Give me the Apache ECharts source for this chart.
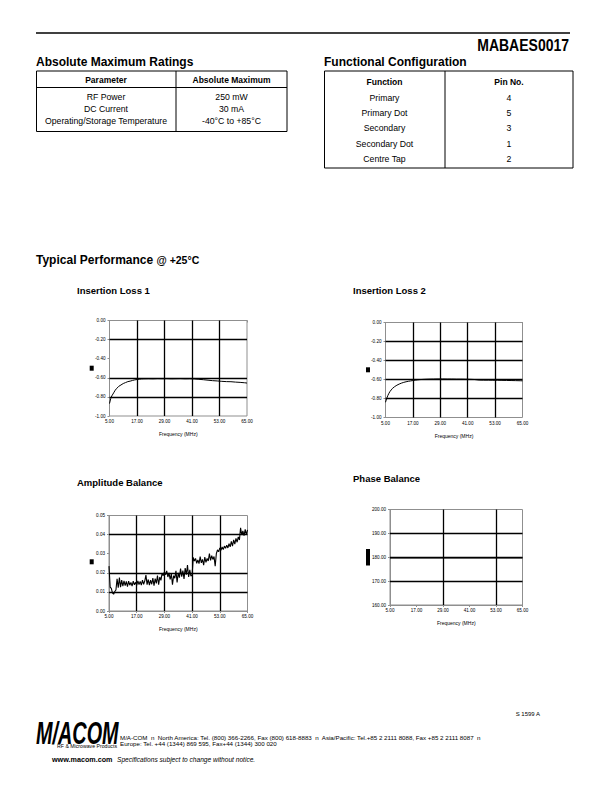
<!DOCTYPE html>
<html><head><meta charset="utf-8">
<script src="https://cdn.jsdelivr.net/npm/echarts@6/dist/echarts.min.js"></script>
<style>html,body{margin:0;padding:0;background:#fff}#c{width:612px;height:792px}</style>
</head><body><div id="c"></div>
<script>
const FONT = '"Liberation Sans", Arial, Helvetica, sans-serif';

// ---------- DATA ----------
const il1Freq = [5,5.5,6,6.5,7,7.5,8,9,10,11,12,13,14,15,16,17,18,19,20,22,24,26,28,30,32,34,36,38,40,42,44,46,48,50,52,54,56,58,60,62,64,65];
const il1Val  = [-0.87,-0.82,-0.79,-0.77,-0.75,-0.73,-0.715,-0.69,-0.675,-0.66,-0.65,-0.64,-0.635,-0.628,-0.622,-0.618,-0.615,-0.612,-0.611,-0.61,-0.611,-0.609,-0.61,-0.609,-0.611,-0.61,-0.609,-0.611,-0.61,-0.612,-0.616,-0.62,-0.625,-0.63,-0.633,-0.637,-0.64,-0.641,-0.645,-0.648,-0.652,-0.655];

const il2Freq = [5,5.5,6,6.5,7,7.5,8,9,10,11,12,13,14,15,16,17,18,19,20,22,24,26,28,30,32,34,36,38,40,42,44,46,48,50,52,54,56,58,60,62,64,65];
const il2Val  = [-0.84,-0.80,-0.77,-0.745,-0.725,-0.71,-0.695,-0.675,-0.66,-0.648,-0.638,-0.63,-0.624,-0.619,-0.615,-0.611,-0.607,-0.604,-0.601,-0.598,-0.596,-0.595,-0.594,-0.594,-0.595,-0.595,-0.596,-0.596,-0.597,-0.598,-0.6,-0.606,-0.607,-0.607,-0.608,-0.608,-0.609,-0.61,-0.611,-0.612,-0.613,-0.614];

const ampFreq = [5,5.5,6,6.5,7,7.5,8,8.5,9,9.5,10,10.5,11,11.5,12,12.5,13,13.5,14,14.5,15,15.5,16,16.5,17,17.5,18,18.5,19,19.5,20,20.5,21,21.5,22,22.5,23,23.5,24,24.5,25,25.5,26,26.5,27,27.5,28,28.5,29,29.5,30,30.5,31,31.5,32,32.5,33,33.5,34,34.5,35,35.5,36,36.5,37,37.5,38,38.5,39,39.5,40,40.5,41,41.5,42,42.5,43,43.5,44,44.5,45,45.5,46,46.5,47,47.5,48,48.5,49,49.5,50,50.5,51,51.5,52,52.5,53,53.5,54,54.5,55,55.5,56,56.5,57,57.5,58,58.5,59,59.5,60,60.5,61,61.5,62,62.5,63,63.5,64,64.5,65];
const ampVal  = [0.0235,0.0125,0.0118,0.0095,0.0088,0.0102,0.0110,0.0168,0.0122,0.0175,0.0125,0.0162,0.0130,0.0158,0.0133,0.0155,0.0128,0.0156,0.0135,0.0150,0.0130,0.0156,0.0137,0.0150,0.0134,0.0158,0.0138,0.0155,0.0136,0.0162,0.0140,0.0158,0.0188,0.0138,0.0165,0.0135,0.0162,0.0140,0.0172,0.0132,0.0170,0.0145,0.0185,0.0138,0.0178,0.0160,0.0198,0.0185,0.0205,0.0190,0.0210,0.0178,0.0200,0.0165,0.0195,0.0138,0.0185,0.0172,0.0210,0.0150,0.0200,0.0175,0.0222,0.0180,0.0212,0.0168,0.0225,0.0190,0.0240,0.0178,0.0215,0.0182,0.0190,0.0280,0.0262,0.0275,0.0250,0.0268,0.0248,0.0285,0.0252,0.0270,0.0240,0.0282,0.0255,0.0275,0.0262,0.0300,0.0265,0.0290,0.0270,0.0285,0.0235,0.0300,0.0320,0.0310,0.0330,0.0318,0.0335,0.0322,0.0340,0.0328,0.0345,0.0330,0.0352,0.0336,0.0365,0.0340,0.0372,0.0350,0.0380,0.0360,0.0388,0.0372,0.0435,0.0398,0.0420,0.0395,0.0428,0.0400,0.0425];

const phaseFreq = [5,7,9,11,13,15,17,19,21,23,25,27,29,31,33,35,37,39,41,43,45,47,49,51,53,55,57,59,61,63,65];
const phaseVal  = [179.75,179.7,179.72,179.7,179.74,179.71,179.7,179.73,179.7,179.72,179.74,179.7,179.71,179.73,179.7,179.72,179.71,179.7,179.74,179.72,179.7,179.73,179.71,179.7,179.72,179.7,179.73,179.71,179.7,179.72,179.71];

const freqTickStart = 5, freqTickMax = 65, freqTickStep = 12;
const il1GridY = [-0.2,-0.6,-0.8], il1GridX = [17,29,41,53];
const il2GridY = [-0.2,-0.4,-0.6,-0.8], il2GridX = [17,29,41,53];
const ampGridY = [0.04,0.02,0.01], ampGridX = [17,29,41,53];
const phaseGridY = [190,180,170], phaseGridX = [29,53];

const chartTitles = ['Insertion Loss 1','Insertion Loss 2','Amplitude Balance','Phase Balance'];
const xAxisName = 'Frequency (MHz)';

const ratingsHeader = ['Parameter','Absolute Maximum'];
const ratingsParam = ['RF Power','DC Current','Operating/Storage Temperature'];
const ratingsMax = ['250 mW','30 mA','-40\u00B0C to +85\u00B0C'];
const configHeader = ['Function','Pin No.'];
const configFunction = ['Primary','Primary Dot','Secondary','Secondary Dot','Centre Tap'];
const configPin = ['4','5','3','1','2'];

// ---------- CHART ----------
const chart = echarts.init(document.getElementById('c'), null, {renderer:'svg', width:612, height:792});

const grids = [
  {left:109.5, top:320.5, width:137.5, height:95.5},
  {left:385.5, top:322.5, width:137, height:95},
  {left:109, top:515.5, width:138.5, height:95.5},
  {left:390, top:509.5, width:132.5, height:95.5}
];
const yCfg = [
  {min:-1, max:0, interval:0.2},
  {min:-1, max:0, interval:0.2},
  {min:0, max:0.05, interval:0.01},
  {min:160, max:200, interval:10}
];
const seriesData = [
  il1Freq.map((f,i)=>[f, il1Val[i]]),
  il2Freq.map((f,i)=>[f, il2Val[i]]),
  ampFreq.map((f,i)=>[f, ampVal[i]]),
  phaseFreq.map((f,i)=>[f, phaseVal[i]])
];
const gridLinesY = [il1GridY, il2GridY, ampGridY, phaseGridY];
const gridLinesX = [il1GridX, il2GridX, ampGridX, phaseGridX];

const GRAY = '#8f8f8f';
const option = {
  animation:false,
  grid: grids.map(g=>Object.assign({show:true, borderColor:GRAY, borderWidth:1, backgroundColor:'#fff', containLabel:false}, g)),
  xAxis: grids.map((g,i)=>({
    type:'value', gridIndex:i, min:freqTickStart, max:freqTickMax, interval:freqTickStep,
    axisLine:{show:true, lineStyle:{color:GRAY, width:1}},
    axisTick:{show:true, length:2, lineStyle:{color:GRAY}},
    splitLine:{show:false},
    axisLabel:{fontSize:4.6, color:'#000', fontFamily:FONT, margin:3, formatter:v=>v.toFixed(2)},
    name:xAxisName, nameLocation:'middle', nameGap:15.5,
    nameTextStyle:{fontSize:5, color:'#000', fontFamily:FONT}
  })),
  yAxis: grids.map((g,i)=>({
    type:'value', gridIndex:i, min:yCfg[i].min, max:yCfg[i].max, interval:yCfg[i].interval,
    axisLine:{show:true, lineStyle:{color:GRAY, width:1}},
    axisTick:{show:true, length:2, lineStyle:{color:GRAY}},
    splitLine:{show:false},
    axisLabel:{fontSize:4.6, color:'#000', fontFamily:FONT, margin:4, formatter:v=>v.toFixed(2)}
  })),
  visualMap:[{type:'piecewise', show:false, seriesIndex:3, dimension:0,
    pieces:[{lt:9,color:'#000'},{gte:9,lte:52,color:'#e2e2e2'},{gt:52,color:'#000'}]}],
  series: seriesData.map((d,i)=>({
    type:'line', xAxisIndex:i, yAxisIndex:i, data:d, showSymbol:false, smooth:false,
    lineStyle:{color:'#000', width: i===2 ? 1.1 : (i===3 ? 1.3 : 1)},
    itemStyle:{color:'#000'},
    z:3,
    markLine:{silent:true, symbol:'none', label:{show:false}, animation:false,
      lineStyle:{color:'#000', width:1.3, type:'solid'},
      emphasis:{disabled:true},
      data: gridLinesY[i].map(v=>({yAxis:v})).concat(gridLinesX[i].map(v=>({xAxis:v})))}
  })),
  graphic: []
};

const G = option.graphic;
function txt(x,y,text,size,opts){
  opts = opts||{};
  const el = {type:'text', x:x, y:y, silent:true,
    style:{text:text, fontSize:size, fontFamily:FONT, fontWeight:opts.weight||'normal', fontStyle:opts.style||'normal',
      fill:opts.fill||'#000', align:opts.align||'left', verticalAlign:opts.valign||'middle'}};
  if (opts.scaleX) el.scaleX = opts.scaleX;
  if (opts.scaleY) el.scaleY = opts.scaleY;
  G.push(el);
}
function line(x1,y1,x2,y2,w,c){ G.push({type:'line', silent:true, shape:{x1,y1,x2,y2}, style:{stroke:c||'#000', lineWidth:w||1}}); }
function rect(x,y,w,h,opts){ G.push({type:'rect', silent:true, shape:{x,y,width:w,height:h}, style:Object.assign({fill:'none', stroke:'#000', lineWidth:1}, opts||{})}); }

// header rule & part number
line(36,33,570,33,1.3);
txt(569,45,'MABAES0017',14,{weight:'bold', align:'right', scaleY:1.2});

// Absolute Maximum Ratings table
txt(36,62,'Absolute Maximum Ratings',12,{weight:'bold'});
rect(36.5,71,250.5,60.5,{lineWidth:1});
line(36.5,87.5,287,87.5,1);
line(176,71,176,131.5,1);
txt(106,79.5,ratingsHeader[0],8.5,{weight:'bold',align:'center'});
txt(231.5,79.5,ratingsHeader[1],8.5,{weight:'bold',align:'center'});
const r1y = [97,109,121];
ratingsParam.forEach((p,i)=>{ txt(106,r1y[i],p,8.7,{align:'center'}); txt(231.5,r1y[i],ratingsMax[i],8.7,{align:'center'}); });

// Functional Configuration table
txt(324,62,'Functional Configuration',12,{weight:'bold'});
rect(324.5,71,248.5,97,{lineWidth:1});
line(445,71,445,168,1);
txt(384.5,81.5,configHeader[0],8.5,{weight:'bold',align:'center'});
txt(509,81.5,configHeader[1],8.5,{weight:'bold',align:'center'});
const r2y = [98,113,128,143.5,159];
configFunction.forEach((f,i)=>{ txt(384.5,r2y[i],f,8.7,{align:'center'}); txt(509,r2y[i],configPin[i],8.7,{align:'center'}); });

// Typical Performance
G.push({type:'text', x:36, y:260, silent:true, style:{text:'{a|Typical Performance} {b|@ +25\u00B0C}', verticalAlign:'middle',
  rich:{a:{fontSize:12, fontWeight:'bold', fontFamily:FONT, fill:'#000'}, b:{fontSize:10.5, fontWeight:'bold', fontFamily:FONT, fill:'#000'}}}});

// chart titles
txt(77,290,chartTitles[0],9.5,{weight:'bold'});
txt(353,290,chartTitles[1],9.5,{weight:'bold'});
txt(77,482,chartTitles[2],9.5,{weight:'bold'});
txt(353,478.5,chartTitles[3],9.5,{weight:'bold'});

// y-axis title placeholders (black blocks)
rect(89.7,365.7,4,5,{fill:'#000', stroke:'none'});
rect(366,367.3,4,5,{fill:'#000', stroke:'none'});
rect(89.7,559.3,4,5,{fill:'#000', stroke:'none'});
rect(366,549,4,16.5,{fill:'#000', stroke:'none'});

// footer
txt(540,714,'S 1599 A',6,{align:'right'});
txt(36,733,'M/ACOM',32,{weight:'900', style:'italic', scaleX:0.62});
txt(117,745.5,'RF & Microwave Products',5.2,{align:'right'});
txt(120,737.3,'M/A-COM  n  North America: Tel. (800) 366-2266, Fax (800) 618-8883  n  Asia/Pacific: Tel.+85 2 2111 8088, Fax +85 2 2111 8087  n',6.2);
txt(120,743.3,'Europe: Tel. +44 (1344) 869 595, Fax+44 (1344) 300 020',6.2);
txt(52,759,'www.macom.com',7.2,{weight:'bold'});
txt(117,759,'Specifications subject to change without notice.',6.6,{style:'italic'});

chart.setOption(option);
</script></body></html>
